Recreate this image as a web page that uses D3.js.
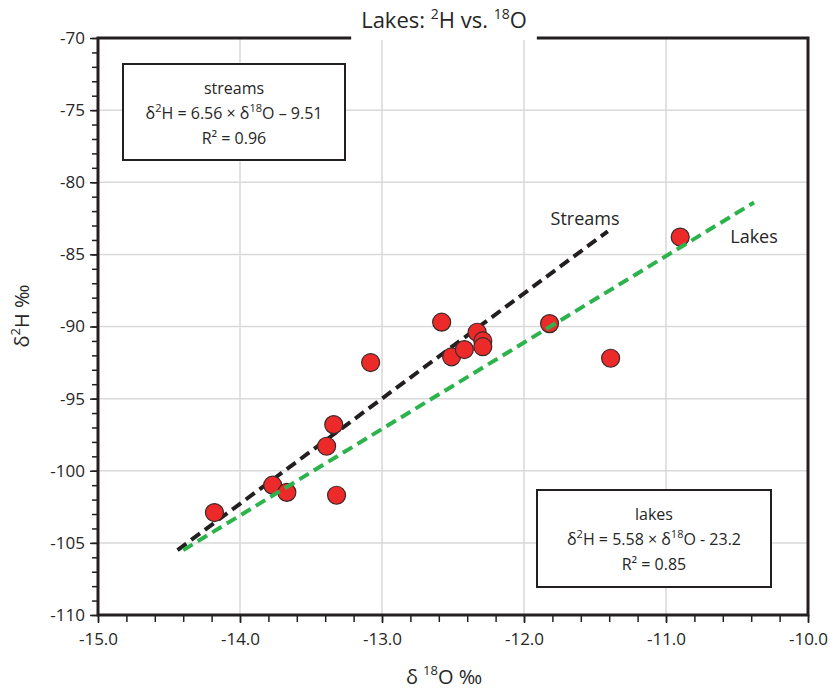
<!DOCTYPE html>
<html>
<head>
<meta charset="utf-8">
<script src="https://cdn.jsdelivr.net/npm/d3@7"></script>
<style>
  body { margin: 0; background: #fff; }
  text { font-family: 'Open Sans', 'Noto Sans', sans-serif; fill: #262626; }
</style>
</head>
<body>
<svg id="chart" width="835" height="691"></svg>
<script>
// lake samples: d18O, d2H (permil)
const lakeO18 = [-14.18, -13.77, -13.67, -13.39, -13.34, -13.32, -13.08, -12.58,
  -12.51, -12.42, -12.33, -12.29, -12.29, -11.82, -11.39, -10.90];
const lakeH2 = [-102.9, -101.0, -101.5, -98.3, -96.8, -101.7, -92.5, -89.7,
  -92.1, -91.6, -90.4, -91.0, -91.4, -89.8, -92.2, -83.8];

// fitted lines, as drawn (endpoints)
const streamsLineO18 = [-14.44, -11.41];
const streamsLineH2 = [-105.5, -83.4];
const lakesLineO18 = [-14.40, -10.38];
const lakesLineH2 = [-105.5, -81.4];

const xTicks = [-15, -14, -13, -12, -11, -10];
const yTicks = [-110, -105, -100, -95, -90, -85, -80, -75, -70];

const svg = d3.select('#chart');
const margin = { top: 38, right: 27, bottom: 76, left: 98 };
const width = 835 - margin.left - margin.right;
const height = 691 - margin.top - margin.bottom;
const g = svg.append('g').attr('transform', `translate(${margin.left},${margin.top})`);

const x = d3.scaleLinear().domain([-15, -10]).range([0, width]);
const y = d3.scaleLinear().domain([-110, -70]).range([height, 0]);

// writes text parts into a <text>, {sup: '..'} parts raised
function richText(t, parts, supSize) {
  parts.forEach(p => {
    if (typeof p === 'object') {
      t.append('tspan').attr('font-size', supSize).attr('baseline-shift', 'super').text(p.sup);
    } else {
      t.append('tspan').text(p);
    }
  });
  return t;
}

// grid
g.append('g')
  .selectAll('line')
  .data(xTicks)
  .join('line')
  .attr('x1', d => x(d)).attr('x2', d => x(d))
  .attr('y1', 0).attr('y2', height)
  .attr('stroke', '#d9d9d9').attr('stroke-width', 1.5);
g.append('g')
  .selectAll('line')
  .data(yTicks)
  .join('line')
  .attr('x1', 0).attr('x2', width)
  .attr('y1', d => y(d)).attr('y2', d => y(d))
  .attr('stroke', '#d9d9d9').attr('stroke-width', 1.5);

// minor ticks
const yMinor = d3.range(-110, -69, 1);
const xMinor = d3.range(-15, -9.99, 0.2);
g.append('g')
  .call(d3.axisLeft(y).tickValues(yMinor).tickSize(6).tickFormat(''))
  .call(a => a.select('.domain').remove())
  .selectAll('line').attr('stroke', '#231f20').attr('stroke-width', 1.5);
g.append('g')
  .attr('transform', `translate(0,${height})`)
  .call(d3.axisBottom(x).tickValues(xMinor).tickSize(7).tickFormat(''))
  .call(a => a.select('.domain').remove())
  .selectAll('line').attr('stroke', '#231f20').attr('stroke-width', 1.5);

// major axes with labels
const yAxis = g.append('g')
  .call(d3.axisLeft(y).tickValues(yTicks).tickSize(8).tickPadding(5));
yAxis.select('.domain').remove();
yAxis.selectAll('line').attr('stroke', '#231f20').attr('stroke-width', 1.5);
yAxis.selectAll('text').attr('font-size', 17).attr('fill', '#262626')
  .text(d => String(d));

const xAxis = g.append('g')
  .attr('transform', `translate(0,${height})`)
  .call(d3.axisBottom(x).tickValues(xTicks).tickSize(8).tickPadding(10));
xAxis.select('.domain').remove();
xAxis.selectAll('line').attr('stroke', '#231f20').attr('stroke-width', 1.5);
xAxis.selectAll('text').attr('font-size', 17).attr('fill', '#262626')
  .text(d => d.toFixed(1));

// frame
g.append('rect')
  .attr('x', 0).attr('y', 0).attr('width', width).attr('height', height)
  .attr('fill', 'none').attr('stroke', '#231f20').attr('stroke-width', 3);

// fitted lines
const line = d3.line().x(d => x(d[0])).y(d => y(d[1]));
g.append('path')
  .datum(streamsLineO18.map((v, i) => [v, streamsLineH2[i]]))
  .attr('d', line)
  .attr('fill', 'none').attr('stroke', '#231f20').attr('stroke-width', 4)
  .attr('stroke-dasharray', '11,6');

// points
g.append('g')
  .selectAll('circle')
  .data(lakeO18.map((v, i) => [v, lakeH2[i]]))
  .join('circle')
  .attr('cx', d => x(d[0]))
  .attr('cy', d => y(d[1]))
  .attr('r', 9)
  .attr('fill', '#ed2a2a')
  .attr('stroke', '#3a2a2a')
  .attr('stroke-width', 1.2);

g.append('path')
  .datum(lakesLineO18.map((v, i) => [v, lakesLineH2[i]]))
  .attr('d', line)
  .attr('fill', 'none').attr('stroke', '#2db34b').attr('stroke-width', 4)
  .attr('stroke-dasharray', '11,6');

// line labels
g.append('text').attr('x', x(-11.57)).attr('y', y(-82.5)).attr('font-size', 18)
  .attr('text-anchor', 'middle').attr('dy', '0.35em').text('Streams');
g.append('text').attr('x', x(-10.38)).attr('y', y(-83.8)).attr('font-size', 18)
  .attr('text-anchor', 'middle').attr('dy', '0.35em').text('Lakes');

// equation boxes
function eqBox(x0, y0, w, h, lines) {
  const b = g.append('g').attr('transform', `translate(${x0},${y0})`);
  b.append('rect').attr('width', w).attr('height', h)
    .attr('fill', '#fff').attr('stroke', '#231f20').attr('stroke-width', 2);
  lines.forEach((parts, i) => {
    const t = b.append('text').attr('x', w / 2).attr('y', 24 + i * 25)
      .attr('text-anchor', 'middle').attr('dy', '0.35em').attr('font-size', 16);
    richText(t, parts, 11);
  });
}

eqBox(25, 26, 222, 96, [
  ['streams'],
  ['δ', { sup: '2' }, 'H = 6.56 × δ', { sup: '18' }, 'O – 9.51'],
  ['R² = 0.96']
]);
eqBox(439, 452, 234, 97, [
  ['lakes'],
  ['δ', { sup: '2' }, 'H = 5.58 × δ', { sup: '18' }, 'O  - 23.2'],
  ['R² = 0.85']
]);

// title with white backing over the frame
const title = svg.append('text').attr('x', 444).attr('y', 28)
  .attr('text-anchor', 'middle').attr('font-size', 22);
richText(title, ['Lakes: ', { sup: '2' }, 'H vs. ', { sup: '18' }, 'O'], 14);
const tb = title.node().getBBox();
svg.insert('rect', () => title.node())
  .attr('x', tb.x - 10).attr('y', tb.y).attr('width', tb.width + 20).attr('height', tb.height + 6)
  .attr('fill', '#fff');

// axis titles
const xt = svg.append('text').attr('x', 444).attr('y', 684)
  .attr('text-anchor', 'middle').attr('font-size', 20);
richText(xt, ['δ ', { sup: '18' }, 'O ‰'], 13);

const yt = svg.append('text')
  .attr('transform', 'translate(29,316) rotate(-90)')
  .attr('text-anchor', 'middle').attr('font-size', 20);
richText(yt, ['δ', { sup: '2' }, 'H ‰'], 13);
</script>
</body>
</html>
